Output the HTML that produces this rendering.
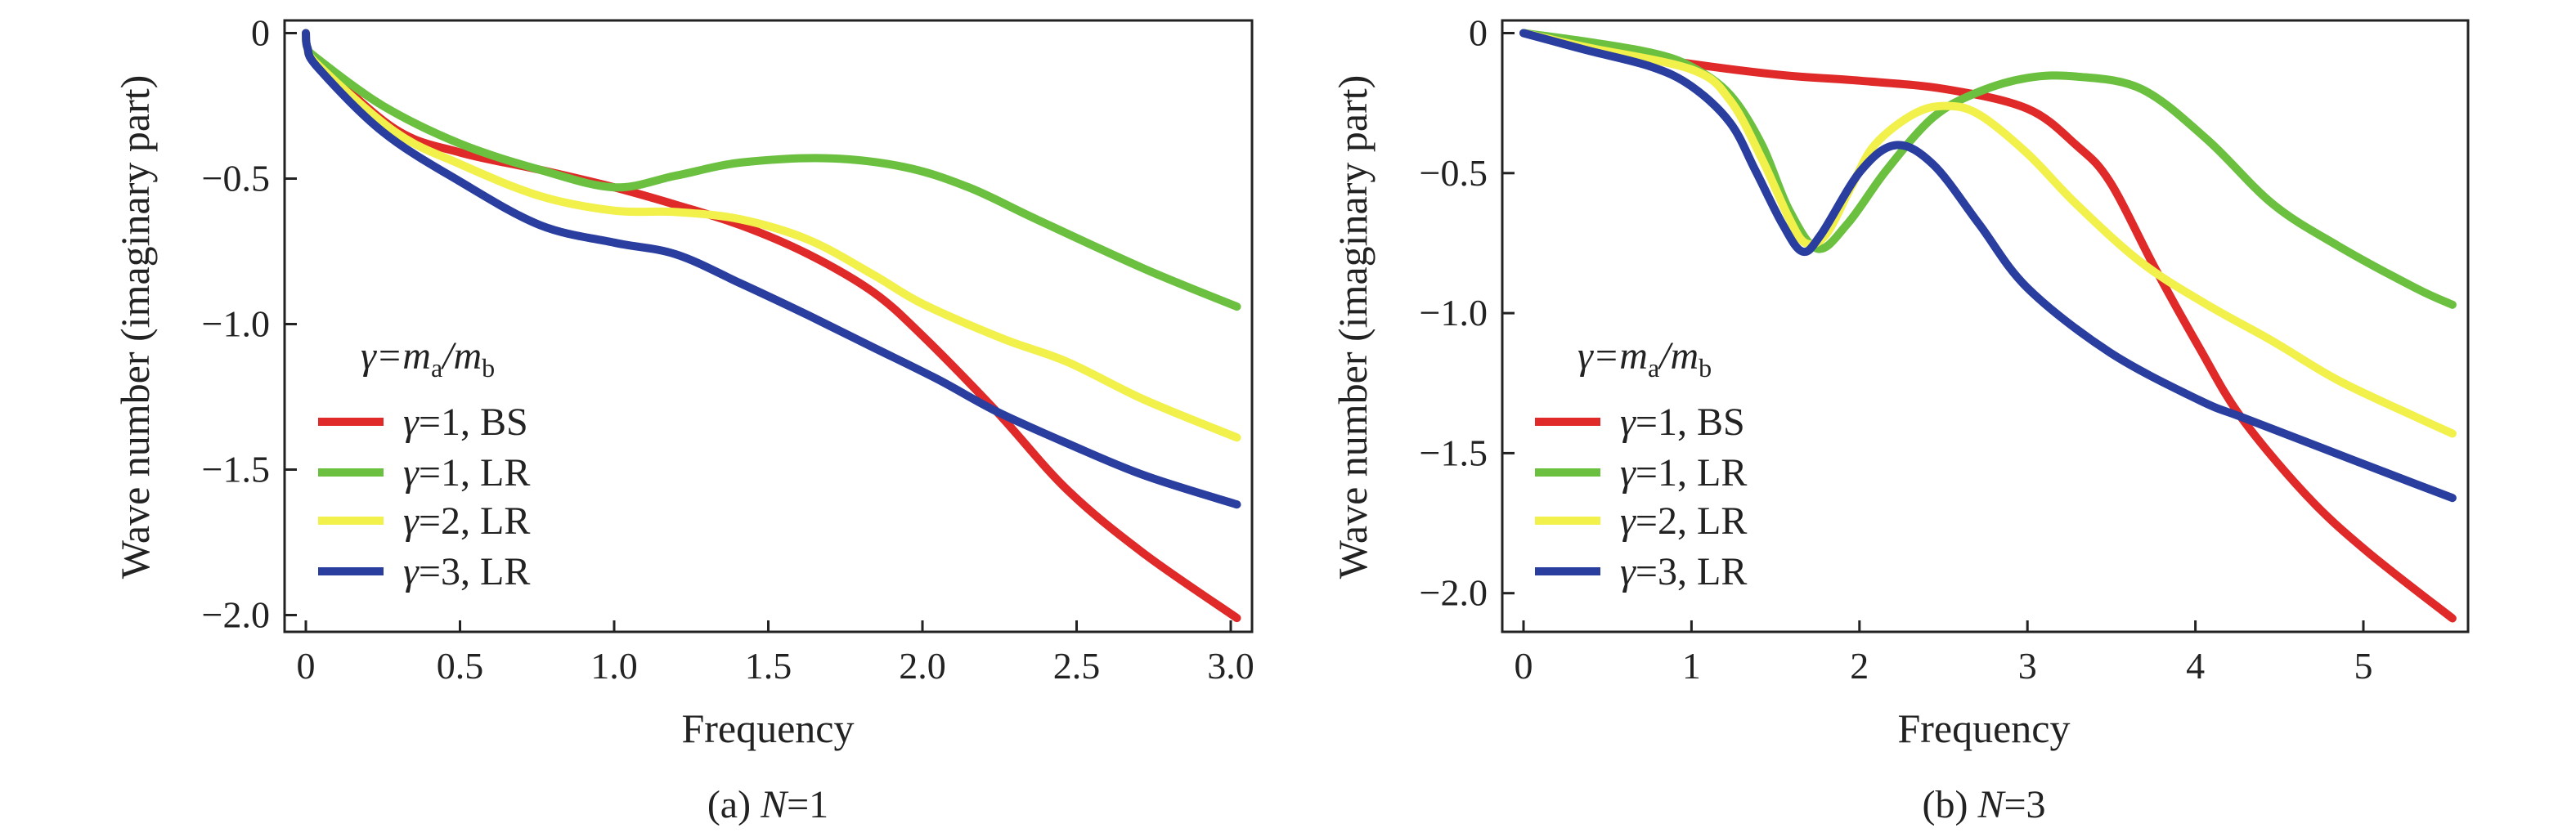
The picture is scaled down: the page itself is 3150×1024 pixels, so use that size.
<!DOCTYPE html>
<html><head><meta charset="utf-8">
<style>
html,body{margin:0;padding:0;background:#fff;}
svg{display:block;font-family:"Liberation Serif",serif;}
</style></head>
<body>
<svg id="fig" width="3150" height="1024" viewBox="0 0 3150 1024" xmlns="http://www.w3.org/2000/svg"></svg>
<script>
// ---- Panel (a) N=1 data ----
const aBS_x=[0,0.005,0.04,0.29,0.5,0.76,1.0,1.2,1.41,1.63,1.84,2.0,2.24,2.47,2.72,3.02];
const aBS_y=[0,-0.05,-0.10,-0.33,-0.41,-0.47,-0.53,-0.59,-0.66,-0.76,-0.89,-1.04,-1.30,-1.57,-1.79,-2.01];
const aLR1_x=[0,0.005,0.04,0.25,0.5,0.76,1.0,1.2,1.41,1.69,1.94,2.15,2.37,2.72,3.02];
const aLR1_y=[0,-0.05,-0.09,-0.25,-0.38,-0.47,-0.53,-0.49,-0.445,-0.43,-0.46,-0.53,-0.64,-0.81,-0.94];
const aLR2_x=[0,0.005,0.04,0.29,0.5,0.76,1.0,1.2,1.41,1.63,1.84,2.0,2.26,2.47,2.72,3.02];
const aLR2_y=[0,-0.05,-0.11,-0.34,-0.45,-0.56,-0.61,-0.615,-0.64,-0.71,-0.83,-0.93,-1.05,-1.13,-1.26,-1.39];
const aLR3_x=[0,0.005,0.04,0.25,0.5,0.76,1.0,1.2,1.41,1.63,1.84,2.05,2.24,2.47,2.72,3.02];
const aLR3_y=[0,-0.05,-0.12,-0.34,-0.51,-0.66,-0.72,-0.76,-0.86,-0.97,-1.08,-1.19,-1.30,-1.41,-1.52,-1.62];
const aXTicks=[0,0.5,1.0,1.5,2.0,2.5,3.0];
const aXLabels=["0","0.5","1.0","1.5","2.0","2.5","3.0"];
// ---- Panel (b) N=3 data ----
const bBS_x=[0,0.37,1.0,1.54,2.0,2.51,3.0,3.29,3.49,3.76,4.02,4.27,4.66,5.02,5.53];
const bBS_y=[0,-0.05,-0.11,-0.15,-0.17,-0.2,-0.27,-0.40,-0.53,-0.84,-1.12,-1.37,-1.65,-1.85,-2.09];
const bLR1_x=[0,0.37,0.76,1.0,1.23,1.42,1.58,1.75,1.93,2.16,2.44,2.71,3.0,3.29,3.68,4.07,4.46,4.85,5.31,5.53];
const bLR1_y=[0,-0.03,-0.07,-0.12,-0.22,-0.40,-0.63,-0.77,-0.68,-0.49,-0.30,-0.21,-0.16,-0.155,-0.2,-0.38,-0.61,-0.76,-0.91,-0.97];
const bLR2_x=[0,0.37,1.0,1.23,1.42,1.58,1.68,1.8,1.95,2.09,2.32,2.51,2.71,3.0,3.29,3.68,4.07,4.46,4.85,5.31,5.53];
const bLR2_y=[0,-0.05,-0.13,-0.24,-0.45,-0.66,-0.75,-0.72,-0.55,-0.40,-0.29,-0.26,-0.29,-0.43,-0.61,-0.82,-0.97,-1.10,-1.24,-1.37,-1.43];
const bLR3_x=[0,0.37,0.76,1.0,1.23,1.38,1.54,1.66,1.77,2.01,2.22,2.44,2.71,3.0,3.49,4.02,4.27,4.66,5.31,5.53];
const bLR3_y=[0,-0.06,-0.12,-0.19,-0.32,-0.49,-0.68,-0.78,-0.72,-0.49,-0.40,-0.47,-0.68,-0.91,-1.14,-1.31,-1.37,-1.46,-1.61,-1.66];
const bXTicks=[0,1,2,3,4,5];
const bXLabels=["0","1","2","3","4","5"];
const yTicks=[0,-0.5,-1.0,-1.5,-2.0];
const yLabels=["0","\u22120.5","\u22121.0","\u22121.5","\u22122.0"];
const seriesNames=["γ=1, BS","γ=1, LR","γ=2, LR","γ=3, LR"];
const colors=["#e02a2a","#6cc040","#f2f04a","#2a3ea0"];

const NS="http://www.w3.org/2000/svg";
const svg=document.getElementById('fig');
function mk(tag,attrs,parent){const e=document.createElementNS(NS,tag);for(const k in attrs)e.setAttribute(k,attrs[k]);(parent||svg).appendChild(e);return e;}

function smoothPath(P){
  let d='M'+P[0][0].toFixed(1)+','+P[0][1].toFixed(1);
  for(let i=0;i<P.length-1;i++){
    const p0=P[Math.max(0,i-1)],p1=P[i],p2=P[i+1],p3=P[Math.min(P.length-1,i+2)];
    const c1=[p1[0]+(p2[0]-p0[0])/6,p1[1]+(p2[1]-p0[1])/6];
    const c2=[p2[0]-(p3[0]-p1[0])/6,p2[1]-(p3[1]-p1[1])/6];
    d+='C'+c1[0].toFixed(1)+','+c1[1].toFixed(1)+' '+c2[0].toFixed(1)+','+c2[1].toFixed(1)+' '+p2[0].toFixed(1)+','+p2[1].toFixed(1);
  }
  return d;
}

function panel(cfg){
  const g=mk('g',{});
  
  
  const X=v=>cfg.x0+v*cfg.sx, Y=v=>cfg.y0-v*cfg.sy;
  cfg.series.forEach((s,i)=>{
    const pts=s[0].map((xv,j)=>[X(xv),Y(s[1][j])]);
    const p=mk('path',{d:smoothPath(pts),fill:'none',stroke:colors[i],'stroke-width':10,'stroke-linejoin':'round','stroke-linecap':'round'},g);
    
    
  });
  const fr=mk('rect',{x:cfg.L,y:cfg.T,width:cfg.R-cfg.L,height:cfg.B-cfg.T,fill:'none',stroke:'#222','stroke-width':3},g);
  
  
  cfg.xt.forEach((t,i)=>{
    const tk=mk('line',{x1:X(t),x2:X(t),y1:cfg.B,y2:cfg.B-14,stroke:'#222','stroke-width':3},g);
    
    
    const tl=mk('text',{x:X(t),y:830,'font-size':46,'text-anchor':'middle',fill:'#222'},g);
    tl.textContent=cfg.xl[i];
    
    
  });
  yTicks.forEach((t,i)=>{
    const tk=mk('line',{x1:cfg.L,x2:cfg.L+15,y1:Y(t),y2:Y(t),stroke:'#222','stroke-width':3},g);
    
    
    const tl=mk('text',{x:cfg.L-18,y:Y(t)+15,'font-size':46,'text-anchor':'end',fill:'#222'},g);
    tl.textContent=yLabels[i];
    
    
  });
  const xt=mk('text',{x:cfg.cx,y:908,'font-size':50,'text-anchor':'middle',fill:'#222'},g);
  xt.textContent='Frequency';
  
  
  const yt=mk('text',{x:0,y:0,'font-size':50,'text-anchor':'middle',fill:'#222',transform:'translate('+(cfg.L-166)+',400) rotate(-90)'},g);
  yt.textContent='Wave number (imaginary part)';
  
  
  const cap=mk('text',{x:cfg.cx,y:1000,'font-size':48,'text-anchor':'middle',fill:'#222'},g);
  cap.innerHTML=cfg.cap;
  
  
  const lg=mk('g',{},g);
  
  
  const lt=mk('text',{x:cfg.lx+52,y:451,'font-size':48,fill:'#222','font-style':'italic'},lg);
  lt.innerHTML='γ=m<tspan font-size="32" font-style="normal" dy="10">a</tspan><tspan dy="-10">/m</tspan><tspan font-size="32" font-style="normal" dy="10">b</tspan>';
  
  
  const ly=[516,578,637,699];
  seriesNames.forEach((n,i)=>{
    const ln=mk('line',{x1:cfg.lx,x2:cfg.lx+80,y1:ly[i],y2:ly[i],stroke:colors[i],'stroke-width':10},lg);
    
    
    const tx=mk('text',{x:cfg.lx+104,y:ly[i]+16,'font-size':48,fill:'#222'},lg);
    tx.innerHTML='<tspan font-style="italic">γ</tspan>'+n.slice(1);
    
    
  });
}
panel({id:'panel-a',x0:374,sx:377,y0:40.5,sy:356,L:348,R:1531,T:25,B:773,cx:939,lx:389,
  xt:aXTicks,xl:aXLabels,cap:'(a) <tspan font-style="italic">N</tspan>=1',
  series:[[aBS_x,aBS_y],[aLR1_x,aLR1_y],[aLR2_x,aLR2_y],[aLR3_x,aLR3_y]]});
panel({id:'panel-b',x0:1863,sx:205.4,y0:40.5,sy:342.6,L:1837,R:3018,T:25,B:773,cx:2426,lx:1877,
  xt:bXTicks,xl:bXLabels,cap:'(b) <tspan font-style="italic">N</tspan>=3',
  series:[[bBS_x,bBS_y],[bLR1_x,bLR1_y],[bLR2_x,bLR2_y],[bLR3_x,bLR3_y]]});
</script>
</body></html>
